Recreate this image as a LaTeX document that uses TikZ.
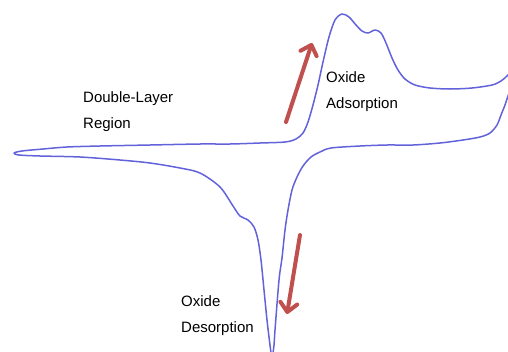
\documentclass[tikz,border=0pt]{standalone}
\usepackage{fontspec}
\setmainfont{Liberation Sans}
\usetikzlibrary{arrows.meta}
\definecolor{cvblue}{RGB}{98,98,218}
\definecolor{sweepred}{RGB}{192,80,77}
\begin{document}
\begin{tikzpicture}[x=1pt,y=-1pt,
  trace/.style={draw=cvblue,line width=1.5pt,line join=round},
  sweep/.style={draw=sweepred,line width=4pt,line cap=round,
    -{Straight Barb[length=9pt,width=17pt,round]}},
  lbl/.style={anchor=base west,inner sep=0pt,font=\fontsize{15}{18}\selectfont}]
\useasboundingbox (0,0) rectangle (508,351);
\clip (0,0) rectangle (508,351);

% cyclic voltammogram, drawn as one continuous sweep
\draw[trace] plot[smooth,tension=0.5] coordinates {
  (516,66) (508,75) (501,81) (492,85) (472,88) (450,89) (430,88) (415,85)
  (405,79) (398,70) (392,58) (386,43) (381,33) (375,30) (368,33) (362,31)
  (356,25) (349,17) (342,14) (335,20) (329,37) (323,62) (318,85) (313,105)
  (308,122) (303,133) (296,139) (285,142) (260,143) (230,144) (200,144)
  (150,145) (100,146) (67,147) (43,149) (22,151) (14,153) (19,155)
  (40,156) (80,157) (120,160) (150,163) (180,168) (200,173) (220,187)
  (233,206) (240,216) (248,220) (254,227) (258,240) (261,260) (264,290)
  (267,320) (270,345) (272,358) (274,345) (275,330) (279,280) (282,258)
  (285,230) (288,210) (292,190) (297,177) (303,166) (311,157) (320,152)
  (331,148) (360,146) (387,145) (413,145) (440,143) (463,140) (480,137)
  (490,133) (497,125) (501,115) (505,105) (508,96) (513,82)};

% sweep direction arrows
\coordinate (upTail) at (286,122);
\coordinate (upTip) at (312,43);
\coordinate (dnTail) at (300,235);
\coordinate (dnTip) at (287,314);
\draw[sweep] (upTail) -- (upTip);
\draw[sweep] (dnTail) -- (dnTip);

% region labels
\node[lbl] (dl1) at (83,102) {Double-Layer};
\node[lbl] (dl2) at (83,128) {Region};
\node[lbl] (ad1) at (326,82) {Oxide};
\node[lbl] (ad2) at (326,108) {Adsorption};
\node[lbl] (de1) at (181,306) {Oxide};
\node[lbl] (de2) at (181,332) {Desorption};
\end{tikzpicture}
\end{document}
